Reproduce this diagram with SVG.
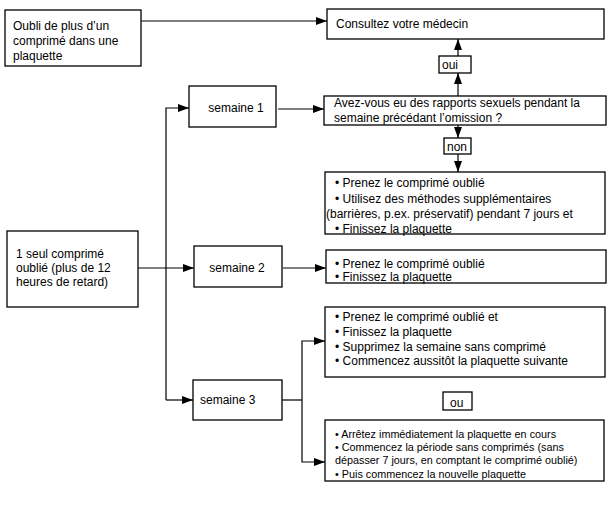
<svg xmlns="http://www.w3.org/2000/svg" width="609" height="520" viewBox="0 0 609 520">
<style>
.box{fill:#fff;stroke:#000;stroke-width:1.3}
.t{font-family:"Liberation Sans",Arial,sans-serif;font-size:12px;fill:#000}
.s{font-family:"Liberation Sans",Arial,sans-serif;font-size:10.8px;fill:#000}
.c{fill:none;stroke:#000;stroke-width:1.2}
.a{marker-end:url(#ah)}
</style>
<defs>
<marker id="ah" markerUnits="userSpaceOnUse" markerWidth="12" markerHeight="8" refX="11" refY="4" orient="auto">
<path d="M0,0 L11,4 L0,8 z" fill="#000"/>
</marker>
</defs>
<rect width="609" height="520" fill="#fff"/>
<g id="connectors">
<path class="c a" d="M141,21 H327"/>
<path class="c a" d="M458,56 V39"/>
<path class="c a" d="M458,96 V73"/>
<path class="c a" d="M458,125 V138"/>
<path class="c a" d="M458,154 V172"/>
<path class="c a" d="M166,400 V108 H189"/>
<path class="c a" d="M166,400 H193"/>
<path class="c a" d="M138,268 H194"/>
<path class="c a" d="M278,109 H324"/>
<path class="c a" d="M283,268 H326"/>
<path class="c" d="M282,400 H302"/>
<path class="c a" d="M302,400 V341 H325"/>
<path class="c a" d="M302,400 V462 H325"/>
</g>
<g id="oubli-plus">
<rect class="box" x="5" y="10" width="136" height="56"/>
<text class="t" x="13" y="30">Oubli de plus d’un</text>
<text class="t" x="13" y="45">comprimé dans une</text>
<text class="t" x="13" y="60">plaquette</text>
</g>
<g id="consultez">
<rect class="box" x="327" y="9" width="277" height="30"/>
<text class="t" x="336" y="28">Consultez votre médecin</text>
</g>
<g id="oui">
<rect class="box" x="439" y="56" width="32" height="17"/>
<text class="t" x="442" y="69">oui</text>
</g>
<g id="question">
<rect class="box" x="324" y="96" width="282" height="29"/>
<text class="t" x="334" y="107">Avez-vous eu des rapports sexuels pendant la</text>
<text class="t" x="334" y="122">semaine précédant l’omission ?</text>
</g>
<g id="non">
<rect class="box" x="444" y="138" width="27" height="16"/>
<text class="t" x="447" y="151">non</text>
</g>
<g id="semaine1-actions">
<rect class="box" x="325" y="172" width="280" height="62"/>
<text class="t" x="335" y="187">• Prenez le comprimé oublié</text>
<text class="t" x="335" y="203">• Utilisez des méthodes supplémentaires</text>
<text class="t" x="326" y="218">(barrières, p.ex. préservatif) pendant 7 jours et</text>
<text class="t" x="335" y="233">• Finissez la plaquette</text>
</g>
<g id="semaine1">
<rect class="box" x="189" y="86" width="87" height="41"/>
<text class="t" x="236" y="112" text-anchor="middle">semaine 1</text>
</g>
<g id="un-seul">
<rect class="box" x="7" y="231" width="131" height="76"/>
<text class="t" x="16" y="258">1 seul comprimé</text>
<text class="t" x="16" y="272">oublié (plus de 12</text>
<text class="t" x="16" y="286">heures de retard)</text>
</g>
<g id="semaine2">
<rect class="box" x="194" y="246" width="88" height="41"/>
<text class="t" x="237" y="272" text-anchor="middle">semaine 2</text>
</g>
<g id="semaine2-actions">
<rect class="box" x="326" y="250" width="280" height="33"/>
<text class="t" x="335" y="268">• Prenez le comprimé oublié</text>
<text class="t" x="335" y="281">• Finissez la plaquette</text>
</g>
<g id="semaine3">
<rect class="box" x="193" y="380" width="89" height="40"/>
<text class="t" x="200" y="404">semaine 3</text>
</g>
<g id="semaine3-a">
<rect class="box" x="325" y="307" width="280" height="70"/>
<text class="t" x="335" y="321">• Prenez le comprimé oublié et</text>
<text class="t" x="335" y="336">• Finissez la plaquette</text>
<text class="t" x="335" y="351">• Supprimez la semaine sans comprimé</text>
<text class="t" x="335" y="365">• Commencez aussitôt la plaquette suivante</text>
</g>
<g id="ou">
<rect class="box" x="443" y="392" width="29" height="18"/>
<text class="t" x="450" y="407">ou</text>
</g>
<g id="semaine3-b">
<rect class="box" x="325" y="420" width="279" height="61"/>
<text class="s" x="335" y="438">• Arrêtez immédiatement la plaquette en cours</text>
<text class="s" x="335" y="451">• Commencez la période sans comprimés (sans</text>
<text class="s" x="335" y="464">dépasser 7 jours, en comptant le comprimé oublié)</text>
<text class="s" x="335" y="478">• Puis commencez la nouvelle plaquette</text>
</g>
</svg>
